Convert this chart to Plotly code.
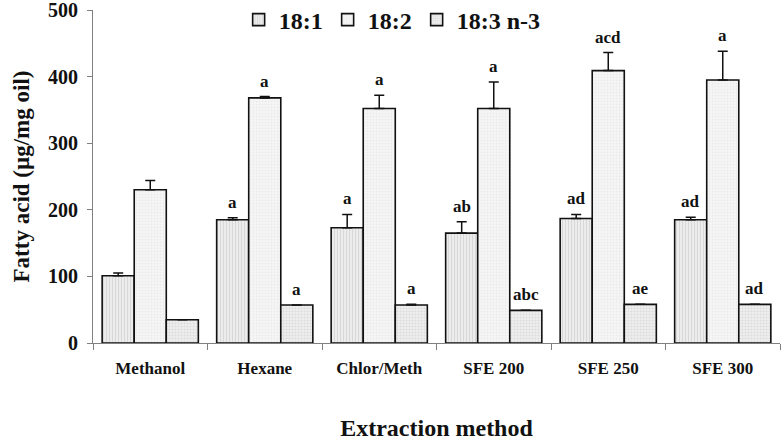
import plotly.graph_objects as go

categories = ["Methanol", "Hexane", "Chlor/Meth", "SFE 200", "SFE 250", "SFE 300"]
series_names = ["18:1", "18:2", "18:3 n-3"]

fa_18_1 = [101, 185, 173, 165, 187, 185]
err_18_1 = [4, 3, 20, 17, 6, 4]
fa_18_2 = [230, 368, 352, 352, 409, 395]
err_18_2 = [14, 2, 20, 40, 27, 43]
fa_18_3 = [35, 57, 57, 49, 58, 58]
err_18_3 = [0, 0, 1, 0, 0, 0]

letters_18_1 = ["", "a", "a", "ab", "ad", "ad"]
letters_18_2 = ["", "a", "a", "a", "acd", "a"]
letters_18_3 = ["", "a", "a", "abc", "ae", "ad"]

values = [fa_18_1, fa_18_2, fa_18_3]
errors = [err_18_1, err_18_2, err_18_3]
letters = [letters_18_1, letters_18_2, letters_18_3]

FONT = "Liberation Serif"
styles = [
    dict(bgcolor="#ececec", fgcolor="#c4c4c4", shape="|", size=3, solidity=0.35),
    dict(bgcolor="#f6f6f6", fgcolor="#dddddd", shape=".", size=3, solidity=0.3),
    dict(bgcolor="#eeeeee", fgcolor="#c8c8c8", shape=".", size=3, solidity=0.35),
]

fig = go.Figure()
for i in range(3):
    fig.add_trace(go.Bar(
        name=series_names[i], x=categories, y=values[i],
        marker=dict(color=styles[i]["bgcolor"], line=dict(color="#111111", width=1.6),
                    pattern=styles[i]),
        error_y=dict(type="data", array=errors[i], arrayminus=[0] * 6, symmetric=False,
                     color="#111111", thickness=1.5, width=5, visible=True),
    ))

bar_px = 114.5 * 0.84 / 3
annotations = []
for i in range(3):
    for j, c in enumerate(categories):
        if letters[i][j]:
            annotations.append(dict(
                x=c, y=values[i][j] + errors[i][j], xref="x", yref="y",
                text=letters[i][j], showarrow=False, yanchor="bottom",
                xshift=(i - 1) * bar_px, yshift=4,
                font=dict(family=FONT, size=17, color="#111111", weight="bold"),
            ))

fig.update_layout(
    width=783, height=443,
    margin=dict(l=93, r=3, t=10, b=100, autoexpand=False),
    paper_bgcolor="white", plot_bgcolor="white",
    barmode="group", bargap=0.16, bargroupgap=0,
    font=dict(family=FONT, color="#111111"),
    showlegend=True,
    legend=dict(orientation="h", x=0.212, y=0.97, xanchor="left", yanchor="middle",
                font=dict(family=FONT, size=24, weight="bold"), itemwidth=30,
                bgcolor="rgba(0,0,0,0)", traceorder="normal"),
    annotations=annotations,
    xaxis=dict(
        automargin=False,
        showline=True, linecolor="#808080", linewidth=1,
        ticks="outside", tickson="boundaries", ticklen=6, tickcolor="#808080",
        tickfont=dict(family=FONT, size=17, weight="bold"),
        ticklabelstandoff=10,
        title=dict(text="Extraction method", font=dict(family=FONT, size=24, weight="bold"),
                   standoff=41),
        showgrid=False,
    ),
    yaxis=dict(
        automargin=False,
        range=[0, 500], dtick=100,
        showline=True, linecolor="#808080", linewidth=1,
        ticks="outside", ticklen=5, tickcolor="#808080",
        tickfont=dict(family=FONT, size=20, weight="bold"),
        ticklabelstandoff=5, ticklabeloverflow="allow",
        title=dict(text="Fatty acid (µg/mg oil)", font=dict(family=FONT, size=23, weight="bold"),
                   standoff=11),
        showgrid=False, zeroline=False,
    ),
)

fig.write_html("out.html", config={"displayModeBar": False},
               post_script="document.body.style.margin='0px';document.body.style.padding='0px';")
